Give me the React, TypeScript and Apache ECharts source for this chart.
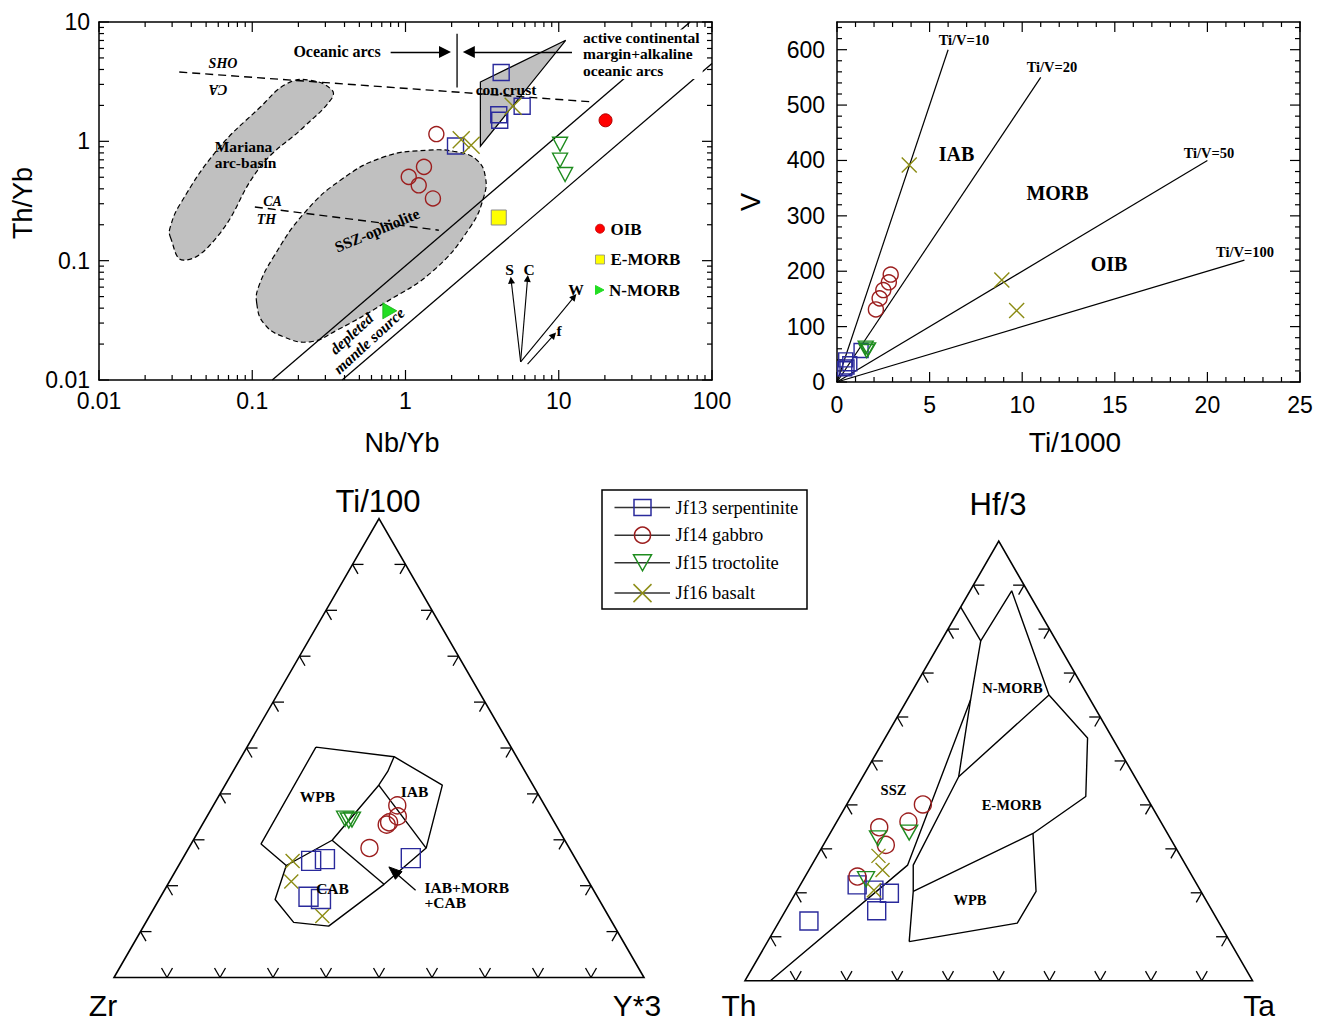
import React, { useEffect, useRef } from "react";
import * as echarts from "echarts";

const SANS = "Liberation Sans, Arial, sans-serif";
const SERIF = "Liberation Serif, Times New Roman, serif";
const BLUE = "#2a2a9c";
const RED = "#9c1e1e";
const GREEN = "#1e8c1e";
const OLIVE = "#8c8c14";
const GREY = "#c0c0c0";

// ---------- Panel A : Th/Yb vs Nb/Yb (log-log) ----------
const nbYbTickValues = [0.01, 0.1, 1, 10, 100];
const nbYbTickLabels = ["0.01", "0.1", "1", "10", "100"];
const thYbTickValues = [0.01, 0.1, 1, 10];
const thYbTickLabels = ["0.01", "0.1", "1", "10"];

const serpA = [[4.21, 3.77], [4.06, 1.67], [4.12, 1.5], [5.77, 1.97], [2.12, 0.915]];
const gabbroA = [[1.59, 1.15], [1.32, 0.611], [1.05, 0.504], [1.22, 0.428], [1.51, 0.332]];
const troctA = [[10.2, 0.946], [10.2, 0.695], [11.0, 0.527]];
const basaltA = [[2.31, 1.03], [2.68, 0.927], [5.04, 1.97]];
const oibRef = [[20.2, 1.5]];
const emorbRef = [[4.06, 0.23]];
const nmorbRef = [[0.79, 0.038]];

const arrayUpper = [[0.135, 0.01], [72, 10]];
const arrayLower = [[0.386, 0.01], [100, 4.5]];
const shoCaLine = [[0.0334, 3.81], [16.6, 2.14]];
const caThLine = [[0.104, 0.282], [1.65, 0.18]];
const oceanicArcDivider = [[2.17, 2.82], [2.17, 7.98]];
const conCrust = [[3.08, 3.14], [11.1, 7.03], [3.08, 0.91]];
const marianaBlob = [
  [0.0292, 0.158], [0.0356, 0.101], [0.0589, 0.158], [0.113, 0.611], [0.217, 1.32],
  [0.324, 2.21], [0.332, 2.68], [0.239, 3.25], [0.169, 3.05], [0.113, 1.94],
  [0.0589, 0.841], [0.034, 0.301], [0.0292, 0.192],
];
const sszBlob = [
  [0.107, 0.0438], [0.119, 0.0298], [0.16, 0.023], [0.239, 0.0209], [0.358, 0.0262],
  [0.722, 0.0438], [1.53, 0.0832], [2.65, 0.192], [3.24, 0.342], [3.32, 0.504],
  [2.93, 0.695], [2.17, 0.815], [1.38, 0.841], [0.722, 0.74], [0.376, 0.472],
  [0.217, 0.248], [0.138, 0.108], [0.11, 0.0604],
];
const oceanicArcArrows = [
  [[0.8, 5.61], [1.81, 5.61]],
  [[12.2, 5.61], [2.59, 5.61]],
];
const vectorArrows = [
  [[5.64, 0.0142], [4.89, 0.0687]],
  [[5.64, 0.0142], [6.26, 0.071]],
  [[5.64, 0.0142], [12.6, 0.0498]],
  [[6.26, 0.0136], [9.27, 0.0238]],
];

// ---------- Panel B : V vs Ti/1000 ----------
const tiTickValues = [0, 5, 10, 15, 20, 25];
const vTickValues = [0, 100, 200, 300, 400, 500, 600];
const tiVRatios = [10, 20, 50, 100];
const tiVEndV = [600, 550, 400, 220];
const serpB = [[1.3, 57], [0.47, 40], [0.69, 33], [0.54, 27], [0.42, 24]];
const gabbroB = [[2.9, 194], [2.8, 180], [2.5, 166], [2.3, 151], [2.1, 131]];
const troctB = [[1.68, 59], [1.55, 62], [1.6, 56]];
const basaltB = [[3.9, 392], [8.9, 184], [9.7, 129]];

// ---------- Panel C : Ti/100 - Zr - Y*3  ([Zr, Ti/100, Y*3] %) ----------
const serpC = [[50.1, 25.4, 24.5], [47.3, 25.8, 26.9], [54.5, 17.6, 27.9], [52.4, 17.1, 30.5], [31.0, 26.0, 43.0]];
const gabbroC = [[27.8, 37.5, 34.7], [28.9, 35.1, 36.0], [31.2, 33.8, 35.0], [31.9, 33.3, 34.8], [37.7, 28.2, 34.1]];
const troctC = [[39.1, 34.6, 26.3], [38.6, 34.2, 27.2], [37.9, 34.4, 27.7]];
const basaltC = [[53.6, 25.4, 21.0], [56.1, 20.9, 23.0], [54.0, 13.4, 32.6]];
const fieldOutlineC = [
  [36.8, 50.2, 13.0], [23.1, 48.1, 28.8], [17.1, 41.9, 41.0], [27.0, 28.2, 44.8], [38.9, 20.3, 40.8],
  [53.9, 11.2, 34.9], [60.1, 12.0, 27.9], [61.1, 17.0, 21.9], [55.3, 24.4, 20.3], [57.7, 29.1, 13.2],
  [36.8, 50.2, 13.0],
];
const wpbBoundaryC = [[23.1, 48.1, 28.8], [25.9, 44.9, 29.2], [29.1, 41.9, 29.0], [43.9, 29.9, 26.2], [55.3, 24.4, 20.3]];
const iabBoundaryC = [[29.1, 41.9, 29.0], [27.0, 28.2, 44.8]];
const cabBoundaryC = [[43.9, 29.9, 26.2], [38.9, 20.3, 40.8]];

// ---------- Panel D : Hf/3 - Th - Ta  ([Th, Hf/3, Ta] %) ----------
const serpD = [[80.6, 13.6, 5.8], [67.0, 21.8, 11.2], [64.3, 20.6, 15.1], [61.6, 19.9, 18.5], [66.1, 15.9, 18.0]];
const gabbroD = [[44.9, 40.1, 15.0], [49.7, 36.2, 14.1], [56.1, 34.9, 9.0], [56.8, 30.9, 12.3], [66.0, 23.7, 10.3]];
const troctD = [[57.6, 32.4, 10.0], [50.8, 33.7, 15.5], [64.6, 23.1, 12.3]];
const basaltD = [[59.5, 28.4, 12.1], [60.3, 25.2, 14.5], [64.3, 20.6, 15.1]];
const fieldLinesD = [
  [[15.0, 85.0, 0.0], [14.9, 77.3, 7.8]],
  [[14.9, 77.3, 7.8], [3.1, 88.7, 8.2], [7.6, 65.0, 27.4]],
  [[14.9, 77.3, 7.8], [23.6, 63.9, 12.5], [34.7, 46.4, 18.9]],
  [[23.6, 63.9, 12.5], [54.8, 26.3, 18.9], [95.0, 0.0, 5.0]],
  [[7.6, 65.0, 27.4], [34.7, 46.4, 18.9], [53.7, 26.3, 20.0], [56.7, 20.3, 23.0], [63.2, 8.9, 27.9]],
  [[7.6, 65.0, 27.4], [4.9, 55.2, 39.9], [11.9, 41.9, 46.2], [26.5, 33.5, 40.0], [56.7, 20.3, 23.0]],
  [[26.5, 33.5, 40.0], [32.5, 20.3, 47.2], [39.8, 13.1, 47.1], [63.2, 8.9, 27.9]],
];

const ternaryTickFractions = [0.1, 0.2, 0.3, 0.4, 0.5, 0.6, 0.7, 0.8, 0.9];

// axis index of each panel (same index for x and y)
const AX_A = 0;
const AX_B = 2;
const AX_C = 4;
const AX_D = 5;

// ---------- helpers ----------
const H3 = Math.sqrt(3) / 2;
const tern = (p: number[]) => {
  const s = p[0] + p[1] + p[2];
  const b = p[1] / s;
  const c = p[2] / s;
  return [c + b / 2, b * H3];
};

const logMinor = (values: number[]) => {
  const out: number[] = [];
  for (let i = 0; i < values.length - 1; i++) for (let k = 2; k <= 9; k++) out.push(values[i] * k);
  return out;
};
const linMinor = (min: number, max: number, step: number, major: number) => {
  const out: number[] = [];
  for (let v = min + step; v < max - 1e-9; v += step) {
    const r = Math.round(v * 1000) / 1000;
    if (Math.abs(r / major - Math.round(r / major)) > 1e-6) out.push(r);
  }
  return out;
};

const frameTicks = (ai: number, xMajor: number[], xMinor: number[], yMajor: number[], yMinor: number[], xr: number[], yr: number[]) => {
  const data = [
    ...xMajor.map((v) => [v, yr[0], 0, 10]),
    ...xMinor.map((v) => [v, yr[0], 0, 5]),
    ...yMajor.map((v) => [xr[0], v, 1, 10]),
    ...yMinor.map((v) => [xr[0], v, 1, 5]),
  ];
  return {
    type: "custom",
    xAxisIndex: ai,
    yAxisIndex: ai,
    silent: true,
    z: 6,
    data,
    renderItem: (params: any, api: any) => {
      const kind = api.value(2);
      const len = api.value(3);
      const st = { stroke: "#000", lineWidth: 1.2 };
      if (kind === 0) {
        const v = api.value(0);
        const b = api.coord([v, yr[0]]);
        const t = api.coord([v, yr[1]]);
        return {
          type: "group",
          children: [
            { type: "line", shape: { x1: b[0], y1: b[1], x2: b[0], y2: b[1] - len }, style: st },
            { type: "line", shape: { x1: t[0], y1: t[1], x2: t[0], y2: t[1] + len }, style: st },
          ],
        };
      }
      const v = api.value(1);
      const l = api.coord([xr[0], v]);
      const r = api.coord([xr[1], v]);
      return {
        type: "group",
        children: [
          { type: "line", shape: { x1: l[0], y1: l[1], x2: l[0] + len, y2: l[1] }, style: st },
          { type: "line", shape: { x1: r[0], y1: r[1], x2: r[0] - len, y2: r[1] }, style: st },
        ],
      };
    },
  };
};

const ternaryFrame = (ai: number) => [
  {
    type: "custom",
    xAxisIndex: ai,
    yAxisIndex: ai,
    silent: true,
    z: 4,
    data: [[0, 0]],
    renderItem: (params: any, api: any) => ({
      type: "polygon",
      shape: { points: [api.coord([0, 0]), api.coord([1, 0]), api.coord([0.5, H3])] },
      style: { fill: "none", stroke: "#000", lineWidth: 1.6 },
    }),
  },
  {
    type: "custom",
    xAxisIndex: ai,
    yAxisIndex: ai,
    silent: true,
    z: 4,
    data: ternaryTickFractions.flatMap((f) => [[f, 0], [f, 1], [f, 2]]),
    renderItem: (params: any, api: any) => {
      const f = api.value(0);
      const e = api.value(1);
      const L = 11;
      let pt: number[];
      let dirs: number[][];
      if (e === 0) {
        pt = api.coord([f, 0]);
        dirs = [[0.5, -H3], [-0.5, -H3]];
      } else if (e === 1) {
        pt = api.coord([f * 0.5, f * H3]);
        dirs = [[1, 0], [0.5, H3]];
      } else {
        pt = api.coord([1 - f * 0.5, f * H3]);
        dirs = [[-1, 0], [-0.5, H3]];
      }
      return {
        type: "group",
        children: dirs.map((d) => ({
          type: "line",
          shape: { x1: pt[0], y1: pt[1], x2: pt[0] + d[0] * L, y2: pt[1] + d[1] * L },
          style: { stroke: "#000", lineWidth: 1.3 },
        })),
      };
    },
  },
];

const SQ = "rect";
const CI = "circle";
const TRI_DOWN = "path://M0,0L10,0L5,8.66Z";
const TRI_RIGHT = "path://M0,0L8.66,5L0,10Z";
const XMARK = "path://M0,0L10,10M10,0L0,10";

const scatter = (ai: number, data: number[][], symbol: string, size: any, color: string, z = 10) => ({
  type: "scatter",
  xAxisIndex: ai,
  yAxisIndex: ai,
  data,
  symbol,
  symbolSize: size,
  silent: true,
  z,
  itemStyle: { color: "rgba(0,0,0,0)", borderColor: color, borderWidth: 1.4, opacity: 1 },
});

const samples = (ai: number, sets: number[][][], sizes: any[]) => [
  scatter(ai, sets[0], SQ, sizes[0], BLUE),
  scatter(ai, sets[1], CI, sizes[1], RED),
  scatter(ai, sets[2], TRI_DOWN, sizes[2], GREEN),
  scatter(ai, sets[3], XMARK, sizes[3], OLIVE),
];

const lineS = (ai: number, data: number[][], opts: any = {}) => ({
  type: "line",
  xAxisIndex: ai,
  yAxisIndex: ai,
  data,
  symbol: "none",
  silent: true,
  z: opts.z || 3,
  lineStyle: { color: "#000", width: opts.width || 1.3, type: opts.dash || "solid" },
});

const blob = (pts: number[][], smooth: number) => ({
  type: "custom",
  xAxisIndex: AX_A,
  yAxisIndex: AX_A,
  silent: true,
  z: 1,
  data: [pts[0]],
  renderItem: (params: any, api: any) => ({
    type: "polygon",
    shape: { points: pts.map((p) => api.coord(p)), smooth },
    style: { fill: GREY, stroke: "#000", lineWidth: 1.2, lineDash: [5, 3] },
  }),
});

const T = (text: string, x: number, y: number, o: any = {}) => ({
  type: "text",
  x,
  y,
  rotation: o.rot || 0,
  z: 100,
  silent: true,
  style: {
    text,
    fill: "#000",
    fontFamily: o.family || SERIF,
    fontSize: o.size || 15.5,
    fontWeight: o.weight || "bold",
    fontStyle: o.italic ? "italic" : "normal",
    align: o.align || "center",
    verticalAlign: o.va || "middle",
    lineHeight: o.lh,
    backgroundColor: o.bg,
    padding: o.pad,
  },
});

const labelFor = (values: number[], labels: string[]) => (v: number) => {
  const i = values.findIndex((t) => Math.abs(Math.log10(t) - Math.log10(v)) < 1e-6);
  return i >= 0 ? labels[i] : "";
};

const axisLineStyle = { onZero: false, lineStyle: { color: "#000", width: 1.5 } };
const labelStyle = { color: "#000", fontSize: 23, fontFamily: SANS };

function buildOption() {
  const legendRows = [507.6, 535.2, 562.8, 593.1];
  const legendNames = ["Jf13 serpentinite", "Jf14 gabbro", "Jf15 troctolite", "Jf16 basalt"];
  const lx = 642.5;
  const legendMarkers = [
    (y: number) => [{ type: "rect", z: 101, shape: { x: lx - 8.5, y: y - 8, width: 17, height: 16 }, style: { fill: "none", stroke: BLUE, lineWidth: 1.5 } }],
    (y: number) => [{ type: "circle", z: 101, shape: { cx: lx, cy: y, r: 8 }, style: { fill: "none", stroke: RED, lineWidth: 1.5 } }],
    (y: number) => [{ type: "polygon", z: 101, shape: { points: [[lx - 9, y - 8], [lx + 9, y - 8], [lx, y + 8]] }, style: { fill: "none", stroke: GREEN, lineWidth: 1.5 } }],
    (y: number) => [
      { type: "line", z: 101, shape: { x1: lx - 9, y1: y - 9, x2: lx + 9, y2: y + 9 }, style: { stroke: OLIVE, lineWidth: 1.5 } },
      { type: "line", z: 101, shape: { x1: lx + 9, y1: y - 9, x2: lx - 9, y2: y + 9 }, style: { stroke: OLIVE, lineWidth: 1.5 } },
    ],
  ];

  const graphic: any[] = [
    // axis titles
    T("Th/Yb", 23, 203, { family: SANS, size: 27, weight: "normal", rot: Math.PI / 2 }),
    T("Nb/Yb", 402, 443, { family: SANS, size: 27, weight: "normal" }),
    T("V", 751, 202, { family: SANS, size: 27, weight: "normal", rot: Math.PI / 2 }),
    T("Ti/1000", 1075, 442, { family: SANS, size: 28, weight: "normal" }),
    // ternary apex labels
    T("Ti/100", 378, 501, { family: SANS, size: 31, weight: "normal" }),
    T("Zr", 103, 1005, { family: SANS, size: 30, weight: "normal" }),
    T("Y*3", 637, 1005, { family: SANS, size: 30, weight: "normal" }),
    T("Hf/3", 998, 504, { family: SANS, size: 31, weight: "normal" }),
    T("Th", 739, 1005, { family: SANS, size: 30, weight: "normal" }),
    T("Ta", 1259, 1005, { family: SANS, size: 30, weight: "normal" }),
    // panel A annotations
    T("Oceanic arcs", 337, 51.5, { size: 16 }),
    T("active continental\nmargin+alkaline\noceanic arcs", 581, 29.5, { align: "left", va: "top", lh: 16.2, bg: "#fff", pad: [0, 3, 1, 2] }),
    T("SHO", 223, 63.5, { italic: true, size: 14 }),
    T("CA", 218, 89.5, { italic: true, size: 14, rot: Math.PI }),
    T("con.crust", 506, 89),
    T("Mariana", 243.5, 146.5),
    T("arc-basin", 245.5, 162.5),
    T("CA", 272.5, 201, { italic: true, size: 14 }),
    T("TH", 266.5, 219, { italic: true, size: 14 }),
    T("SSZ-ophiolite", 377, 230, { rot: 0.4 }),
    T("depleted", 351.5, 333.5, { italic: true, rot: 0.74 }),
    T("mantle source", 369, 340.5, { italic: true, rot: 0.74 }),
    T("S", 509.5, 269.5),
    T("C", 529, 269.5),
    T("W", 576, 289.5),
    T("f", 559, 330),
    T("OIB", 610.5, 229, { align: "left", size: 17 }),
    T("E-MORB", 610.5, 259.5, { align: "left", size: 17 }),
    T("N-MORB", 609, 290, { align: "left", size: 17 }),
    { type: "circle", z: 100, shape: { cx: 600, cy: 228.7, r: 4.5 }, style: { fill: "#ff0000", stroke: "#c00000", lineWidth: 0.8 } },
    { type: "rect", z: 100, shape: { x: 595.5, y: 255, width: 9, height: 9 }, style: { fill: "#ffff00", stroke: "#888", lineWidth: 0.8 } },
    { type: "polygon", z: 100, shape: { points: [[595.5, 285.5], [604, 290], [595.5, 294.5]] }, style: { fill: "#22dd22", stroke: "#22dd22" } },
    // panel B annotations
    T("Ti/V=10", 964, 40, { size: 14.5 }),
    T("Ti/V=20", 1052, 67, { size: 14.5 }),
    T("Ti/V=50", 1209, 152.5, { size: 14.5 }),
    T("Ti/V=100", 1245, 252, { size: 14.5 }),
    T("IAB", 956.5, 154, { size: 20 }),
    T("MORB", 1057.5, 192.5, { size: 20 }),
    T("OIB", 1109, 264, { size: 20 }),
    // panel C annotations
    T("WPB", 317.5, 796.5),
    T("IAB", 414.5, 791.5),
    T("CAB", 332.5, 888.5),
    T("IAB+MORB", 424.5, 887, { align: "left" }),
    T("+CAB", 424.5, 902.5, { align: "left" }),
    { type: "line", z: 100, shape: { x1: 415.6, y1: 890.3, x2: 398, y2: 875 }, style: { stroke: "#000", lineWidth: 1.3 } },
    { type: "polygon", z: 100, shape: { points: [[388.9, 866.9], [402.0, 871.7], [395.4, 879.3]] }, style: { fill: "#000", stroke: "#000" } },
    // panel D annotations
    T("N-MORB", 1012.5, 687.5, { size: 14.5 }),
    T("E-MORB", 1011.5, 805, { size: 14.5 }),
    T("WPB", 970, 899.5, { size: 14.5 }),
    T("SSZ", 893.5, 789.5, { size: 14.5 }),
    // legend
    { type: "rect", z: 99, shape: { x: 602, y: 490, width: 205, height: 119 }, style: { fill: "#fff", stroke: "#000", lineWidth: 1.5 } },
  ];
  legendRows.forEach((y, i) => {
    graphic.push({ type: "line", z: 100, shape: { x1: 614.5, y1: y, x2: 670, y2: y }, style: { stroke: "#333", lineWidth: 1.5 } });
    legendMarkers[i](y).forEach((m: any) => graphic.push(m));
    graphic.push(T(legendNames[i], 675.5, y, { align: "left", weight: "normal", size: 18.5 }));
  });

  const tiMinor = linMinor(0, 25, 1, 5);
  const vMinor = linMinor(0, 650, 20, 100);

  const series: any[] = [
    // Panel A
    blob(marianaBlob, 0.45),
    blob(sszBlob, 0.45),
    {
      type: "custom",
      xAxisIndex: AX_A,
      yAxisIndex: AX_A,
      silent: true,
      z: 2,
      data: [conCrust[0]],
      renderItem: (params: any, api: any) => ({
        type: "polygon",
        shape: { points: conCrust.map((p) => api.coord(p)) },
        style: { fill: GREY, stroke: "#000", lineWidth: 1.2 },
      }),
    },
    lineS(AX_A, arrayUpper),
    lineS(AX_A, arrayLower),
    lineS(AX_A, shoCaLine, { dash: [8, 5], width: 1.4 }),
    lineS(AX_A, caThLine, { dash: [8, 5], width: 1.4 }),
    lineS(AX_A, oceanicArcDivider),
    {
      type: "lines",
      coordinateSystem: "cartesian2d",
      xAxisIndex: AX_A,
      yAxisIndex: AX_A,
      silent: true,
      z: 6,
      symbol: ["none", "triangle"],
      symbolSize: 12,
      lineStyle: { color: "#000", width: 1.4, opacity: 1 },
      data: oceanicArcArrows.map((c) => ({ coords: c })),
    },
    {
      type: "lines",
      coordinateSystem: "cartesian2d",
      xAxisIndex: AX_A,
      yAxisIndex: AX_A,
      silent: true,
      z: 6,
      symbol: ["none", "triangle"],
      symbolSize: 7,
      lineStyle: { color: "#000", width: 1.1, opacity: 1 },
      data: vectorArrows.map((c) => ({ coords: c })),
    },
    ...samples(AX_A, [serpA, gabbroA, troctA, basaltA], [16, 15, [15, 14], 17]),
    { ...scatter(AX_A, oibRef, CI, 13, "#b00000"), itemStyle: { color: "#ff0000", borderColor: "#b00000", borderWidth: 1, opacity: 1 } },
    { ...scatter(AX_A, emorbRef, SQ, 15, "#888"), itemStyle: { color: "#ffff00", borderColor: "#8a8a8a", borderWidth: 1, opacity: 1 } },
    { ...scatter(AX_A, nmorbRef, TRI_RIGHT, [14, 16], "#22dd22"), itemStyle: { color: "#22dd22", borderColor: "#18b018", borderWidth: 0.8, opacity: 1 } },
    frameTicks(AX_A, nbYbTickValues, logMinor(nbYbTickValues), thYbTickValues, logMinor(thYbTickValues), [0.01, 100], [0.01, 10]),

    // Panel B
    ...tiVRatios.map((r, i) => lineS(AX_B, [[0, 0], [(r * tiVEndV[i]) / 1000, tiVEndV[i]]], { width: 1.2 })),
    ...samples(AX_B, [serpB, gabbroB, troctB, basaltB], [14, 15, [15, 13], 15]),
    frameTicks(AX_B, tiTickValues, tiMinor, vTickValues, vMinor, [0, 25], [0, 650]),

    // Panel C
    ...ternaryFrame(AX_C),
    lineS(AX_C, fieldOutlineC.map(tern), { width: 1.4 }),
    lineS(AX_C, wpbBoundaryC.map(tern), { width: 1.4 }),
    lineS(AX_C, iabBoundaryC.map(tern), { width: 1.4 }),
    lineS(AX_C, cabBoundaryC.map(tern), { width: 1.4 }),
    ...samples(AX_C, [serpC.map(tern), gabbroC.map(tern), troctC.map(tern), basaltC.map(tern)], [19, 17, [17, 15], 14]),

    // Panel D
    ...ternaryFrame(AX_D),
    ...fieldLinesD.map((l) => lineS(AX_D, l.map(tern), { width: 1.4 })),
    ...samples(AX_D, [serpD.map(tern), gabbroD.map(tern), troctD.map(tern), basaltD.map(tern)], [18, 17, [17, 15], 14]),
  ];

  const hiddenX = (g: number) => ({ gridIndex: g, type: "value", min: 0, max: 1, show: false });
  const hiddenY = (g: number) => ({ gridIndex: g, type: "value", min: 0, max: H3, show: false });

  return {
    animation: false,
    backgroundColor: "#fff",
    grid: [
      { left: 99, top: 22, width: 613, height: 358 },
      { left: 837, top: 22, width: 463, height: 360 },
      { left: 114, top: 977.5 - 530 * H3, width: 530, height: 530 * H3 },
      { left: 745, top: 980.7 - 507.5 * H3, width: 507.5, height: 507.5 * H3 },
    ],
    xAxis: [
      {
        gridIndex: 0, type: "log", logBase: 10, min: 0.01, max: 100, position: "bottom",
        axisLine: axisLineStyle, axisTick: { show: false }, splitLine: { show: false },
        axisLabel: { ...labelStyle, margin: 9, formatter: labelFor(nbYbTickValues, nbYbTickLabels) },
      },
      {
        gridIndex: 0, type: "log", logBase: 10, min: 0.01, max: 100, position: "top",
        axisLine: axisLineStyle, axisTick: { show: false }, splitLine: { show: false }, axisLabel: { show: false },
      },
      {
        gridIndex: 1, type: "value", min: 0, max: 25, interval: 5, position: "bottom",
        axisLine: axisLineStyle, axisTick: { show: false }, splitLine: { show: false },
        axisLabel: { ...labelStyle, margin: 11 },
      },
      {
        gridIndex: 1, type: "value", min: 0, max: 25, interval: 5, position: "top",
        axisLine: axisLineStyle, axisTick: { show: false }, splitLine: { show: false }, axisLabel: { show: false },
      },
      hiddenX(2),
      hiddenX(3),
    ],
    yAxis: [
      {
        gridIndex: 0, type: "log", logBase: 10, min: 0.01, max: 10, position: "left",
        axisLine: axisLineStyle, axisTick: { show: false }, splitLine: { show: false },
        axisLabel: { ...labelStyle, margin: 9, formatter: labelFor(thYbTickValues, thYbTickLabels) },
      },
      {
        gridIndex: 0, type: "log", logBase: 10, min: 0.01, max: 10, position: "right",
        axisLine: axisLineStyle, axisTick: { show: false }, splitLine: { show: false }, axisLabel: { show: false },
      },
      {
        gridIndex: 1, type: "value", min: 0, max: 650, interval: 100, position: "left",
        axisLine: axisLineStyle, axisTick: { show: false }, splitLine: { show: false },
        axisLabel: { ...labelStyle, margin: 12, showMaxLabel: false, formatter: (v: number) => (vTickValues.indexOf(v) >= 0 ? String(v) : "") },
      },
      {
        gridIndex: 1, type: "value", min: 0, max: 650, interval: 100, position: "right",
        axisLine: axisLineStyle, axisTick: { show: false }, splitLine: { show: false }, axisLabel: { show: false },
      },
      hiddenY(2),
      hiddenY(3),
    ],
    series,
    graphic,
  };
}

export default function App() {
  const ref = useRef<HTMLDivElement>(null);
  useEffect(() => {
    if (!ref.current) return;
    const chart = echarts.init(ref.current, null, { renderer: "svg" });
    chart.setOption(buildOption() as any);
    return () => chart.dispose();
  }, []);
  return (
    <div
      ref={ref}
      style={{ position: "absolute", left: 0, top: 0, width: 1327, height: 1022, background: "#fff" }}
    />
  );
}
